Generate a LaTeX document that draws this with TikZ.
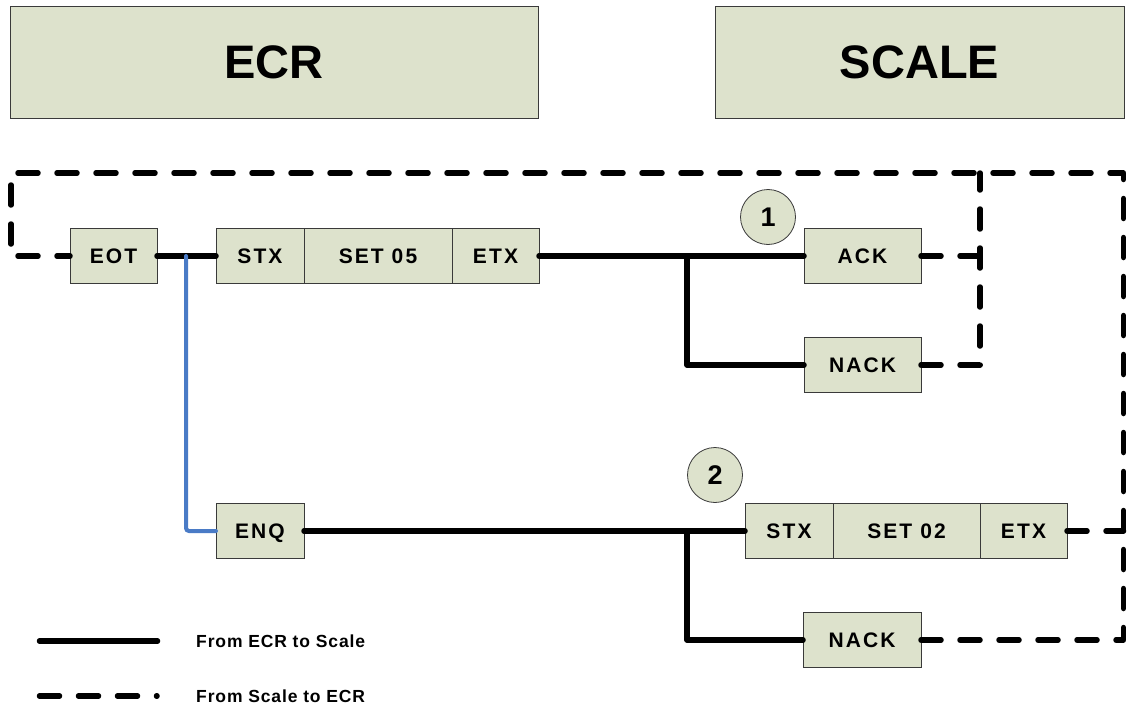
\documentclass[tikz,border=0pt]{standalone}
\usepackage{fontspec}
\setmainfont{Liberation Sans}
\newfontfamily\pktfont[LetterSpace=10]{Liberation Sans}
\newfontfamily\legfont[LetterSpace=5]{Liberation Sans}
\usetikzlibrary{positioning}

\definecolor{boxfill}{HTML}{DDE2CC}
\definecolor{boxline}{HTML}{3A3A3A}
\definecolor{enqblue}{HTML}{4A7BC6}

\tikzset{
  hostbox/.style={draw=boxline, line width=1pt, fill=boxfill, outer sep=0pt,
    minimum height=111pt, font=\bfseries\fontsize{47}{50}\selectfont},
  pkt/.style={draw=boxline, line width=1pt, fill=boxfill, outer sep=0pt,
    inner sep=0pt, minimum height=55pt, text depth=0pt,
    font=\pktfont\bfseries\fontsize{21}{24}\selectfont},
  stepnum/.style={circle, draw=boxline, line width=0.8pt, fill=boxfill,
    minimum size=55pt, inner sep=0pt, text depth=0pt,
    font=\bfseries\fontsize{27}{29}\selectfont},
  legtext/.style={anchor=west, inner sep=0pt, text depth=0pt,
    font=\legfont\bfseries\fontsize{17.5}{20}\selectfont},
  ecrline/.style={line width=5.5pt, line cap=round, line join=round},
  scaleline/.style={ecrline, dash pattern=on 20pt off 19pt},
  enqline/.style={line width=4pt, enqblue, line cap=round, rounded corners=3pt}
}

\begin{document}
\begin{tikzpicture}[x=1pt, y=-1pt]
  \useasboundingbox (0,0) rectangle (1127,709);

  % ========== 上：两端设备 ==========
  \node[hostbox, minimum width=528pt, anchor=north west] (ecr) at (10,7) {ECR};
  \node[hostbox, minimum width=409pt, anchor=north west] (scale) at (715,7) {SCALE};

  % ========== 第一组：SET 05 ==========
  \begin{scope}[local bounding box=first]
    \node[pkt, minimum width=87pt, anchor=west] (eot) at (70,256) {EOT};
    \node[pkt, minimum width=88pt, anchor=west] (stxa) at (216,256) {STX};
    \node[pkt, minimum width=148pt, right=0pt of stxa] (seta) {SET 05};
    \node[pkt, minimum width=87pt, right=0pt of seta] (etxa) {ETX};

    \node[pkt, minimum width=117pt, anchor=west] (acka) at (804,256) {ACK};
    \node[pkt, minimum width=117pt, anchor=west] (nacka) at (804,365) {NACK};

    \node[stepnum] (numa) at (768,217) {1};

    % 分支点
    \coordinate (ja) at (687,256);
    \coordinate (blue) at (186,256);
  \end{scope}

  % ========== 第二组：SET 02 ==========
  \begin{scope}[local bounding box=second]
    \node[pkt, minimum width=88pt, anchor=west] (enq) at (216,531) {ENQ};

    \node[pkt, minimum width=88pt, anchor=west] (stxb) at (745,531) {STX};
    \node[pkt, minimum width=147pt, right=0pt of stxb] (setb) {SET 02};
    \node[pkt, minimum width=87pt, right=0pt of setb] (etxb) {ETX};

    \node[pkt, minimum width=118pt, anchor=west] (nackb) at (803,640) {NACK};

    \node[stepnum] (numb) at (715,475) {2};

    \coordinate (jb) at (687,531);
  \end{scope}

  % 虚线外框的拐角
  \coordinate (tl) at (11,173);
  \coordinate (tr) at (1123.5,173);
  \coordinate (tm) at (980,173);

  % 实线：ECR 发往秤
  \draw[ecrline] (eot.east) -- (stxa.west);
  \draw[ecrline] (etxa.east) -- (acka.west);
  \draw[ecrline] (ja) |- (nacka.west);
  \draw[ecrline] (enq.east) -- (stxb.west);
  \draw[ecrline] (jb) |- (nackb.west);

  % 蓝线：从 EOT 之后转到 ENQ
  \draw[enqline] (blue) |- (enq.west);

  % 虚线：秤回复 ECR
  \draw[scaleline] (nackb.east) -| (tr) -- (tl) |- (eot.west);
  \draw[scaleline] (nacka.east) -| (tm);
  \draw[scaleline] (acka.east) -- (acka.east -| tm);
  \draw[scaleline] (etxb.east) -- (etxb.east -| tr);

  % ========== 图例 ==========
  \coordinate (la) at (39.5,641);
  \coordinate (lb) at (157.5,641);
  \coordinate (lc) at (39.5,696);
  \coordinate (ld) at (157,696);
  \draw[ecrline] (la) -- (lb);
  \draw[scaleline] (lc) -- (ld);
  \node[legtext] (lega) at (196,641) {From ECR to Scale};
  \node[legtext] (legb) at (196,696) {From Scale to ECR};

\end{tikzpicture}
\end{document}
